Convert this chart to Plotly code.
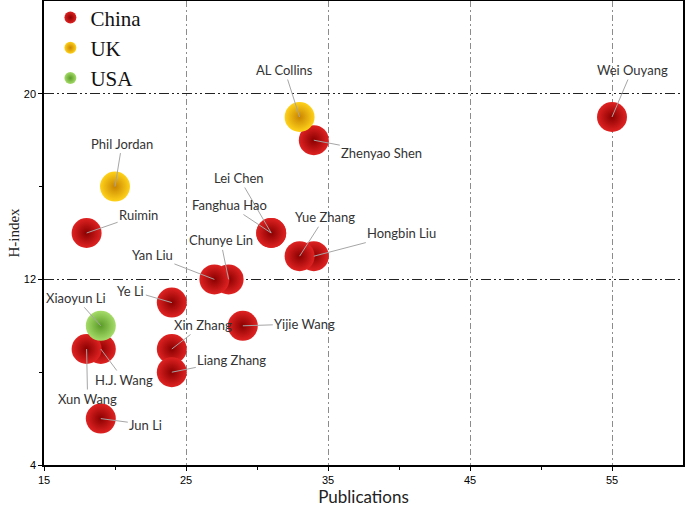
import plotly.graph_objects as go

# data
china_names = ["Wei Ouyang", "Zhenyao Shen", "Ruimin", "Lei Chen", "Fanghua Hao",
               "Yue Zhang", "Hongbin Liu", "Chunye Lin", "Yan Liu", "Ye Li",
               "Yijie Wang", "H.J. Wang", "Xun Wang", "Xin Zhang", "Liang Zhang", "Jun Li"]
china_pubs = [55, 34, 18, 31, 31, 33, 34, 28, 27, 24, 29, 19, 18, 24, 24, 19]
china_h = [19, 18, 14, 14, 14, 13, 13, 12, 12, 11, 10, 9, 9, 9, 8, 6]

uk_names = ["AL Collins", "Phil Jordan"]
uk_pubs = [33, 20]
uk_h = [19, 16]

usa_names = ["Xiaoyun Li"]
usa_pubs = [19]
usa_h = [10]

# label offsets in pixels (text centre relative to the point)
offsets = {
    "Wei Ouyang": (20, -47), "AL Collins": (-15, -47), "Zhenyao Shen": (68, 13),
    "Phil Jordan": (7, -43), "Ruimin": (52, -18), "Lei Chen": (-32, -55),
    "Fanghua Hao": (-42, -28), "Yue Zhang": (25, -39), "Hongbin Liu": (88, -23),
    "Chunye Lin": (-8, -39), "Yan Liu": (-62, -24), "Ye Li": (-41, -12),
    "Xiaoyun Li": (-25, -28), "Xin Zhang": (31, -24), "Liang Zhang": (60, -12),
    "Yijie Wang": (62, -2), "H.J. Wang": (23, 31), "Xun Wang": (1, 50),
    "Jun Li": (45, 6),
}

fig = go.Figure()


def sphere(name, xs, ys, inner, outer):
    fig.add_trace(go.Scatter(
        x=xs, y=ys, mode="markers", name=name,
        marker=dict(size=30, color=inner, line=dict(width=0),
                    gradient=dict(type="radial", color=outer)),
    ))


# draw back-to-front so left spheres sit in front
order = sorted(range(len(china_pubs)), key=lambda i: -china_pubs[i])
sphere("China", [china_pubs[i] for i in order], [china_h[i] for i in order], "#e02222", "#8a0000")
sphere("UK", uk_pubs, uk_h, "#ffd21a", "#c98400")
sphere("USA", usa_pubs, usa_h, "#a6dc6a", "#5a9a26")

for names, xs, ys in [(china_names, china_pubs, china_h), (uk_names, uk_pubs, uk_h),
                      (usa_names, usa_pubs, usa_h)]:
    for n, x, y in zip(names, xs, ys):
        ax, ay = offsets[n]
        fig.add_annotation(x=x, y=y, text=n, showarrow=True, arrowhead=0,
                           arrowwidth=1, arrowcolor="#a6a6a6", ax=ax, ay=ay,
                           font=dict(family="Lato", size=13, color="#333333"))

fig.update_layout(
    width=685, height=507,
    margin=dict(l=44, r=2, t=1, b=42, autoexpand=False),
    plot_bgcolor="white", paper_bgcolor="white",
    showlegend=True,
    legend=dict(x=0.01, y=1.008, xanchor="left", yanchor="top", bgcolor="rgba(0,0,0,0)",
                font=dict(family="Liberation Serif", size=21, color="#111111"),
                itemsizing="constant", itemwidth=30, tracegroupgap=0),
)
fig.update_xaxes(
    range=[15, 60], tickvals=[15, 25, 35, 45, 55], automargin=False,
    showgrid=True, gridcolor="#8c8c8c", gridwidth=1, griddash="6px,3px,2px,3px",
    zeroline=False, showline=True, linecolor="black", linewidth=1.5, mirror=True,
    ticks="outside", ticklen=4, tickcolor="black",
    minor=dict(tickvals=[20, 30, 40, 50], ticks="outside", ticklen=3, tickcolor="black", showgrid=False),
    tickfont=dict(family="Liberation Sans Narrow, Arial", size=11, color="black"),
    title=dict(text="Publications", font=dict(family="Lato", size=17, color="#222222"), standoff=4),
)
fig.update_yaxes(
    range=[4, 24], tickvals=[4, 12, 20], automargin=False,
    showgrid=True, gridcolor="#222222", gridwidth=1, griddash="10px,3px,2px,3px,2px,3px",
    zeroline=False, showline=True, linecolor="black", linewidth=1.5, mirror=True,
    ticks="outside", ticklen=4, tickcolor="black",
    minor=dict(tickvals=[8, 16], ticks="outside", ticklen=3, tickcolor="black", showgrid=False),
    tickfont=dict(family="Liberation Sans Narrow, Arial", size=11, color="black"),
    title=dict(text="H-index", font=dict(family="Liberation Serif", size=15, color="#222222"), standoff=1),
)

# the page body has a default 8px margin; remove it so the figure fills the window
fig.write_html("out.html", config={"displayModeBar": False},
               post_script="document.body.style.margin='0';")
